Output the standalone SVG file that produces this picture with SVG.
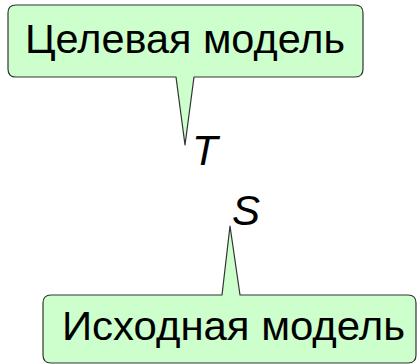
<svg xmlns="http://www.w3.org/2000/svg" width="417" height="364" viewBox="0 0 417 364">
<style>
.callout{fill:#ccffcc;stroke:#333333;stroke-width:1.2;stroke-linejoin:round}
.lbl{font-family:"Liberation Sans","DejaVu Sans",sans-serif;font-size:41px;fill:#000}
.var{font-family:"Liberation Sans","DejaVu Sans",sans-serif;font-size:42px;font-style:italic;fill:#000}
</style>
<rect width="417" height="364" fill="#ffffff"/>
<g id="target">
<path class="callout" d="M16,5 H355 Q363,5 363,13 V69 Q363,77 355,77 H194 L185,145 L176,77 H16 Q8,77 8,69 V13 Q8,5 16,5 Z"/>
<text class="lbl" x="25" y="53" textLength="320" lengthAdjust="spacingAndGlyphs">Целевая модель</text>
</g>
<g id="source">
<path class="callout" d="M51,295 H222 L230,226 L240,295 H408 Q416,295 416,303 V355 Q416,363 408,363 H51 Q43,363 43,355 V303 Q43,295 51,295 Z"/>
<text class="lbl" x="62" y="340" textLength="343" lengthAdjust="spacingAndGlyphs">Исходная модель</text>
</g>
<g id="T"><text class="var" x="192" y="165">T</text></g>
<g id="S"><text class="var" x="232" y="225">S</text></g>
<g id="connectors"></g>
</svg>
